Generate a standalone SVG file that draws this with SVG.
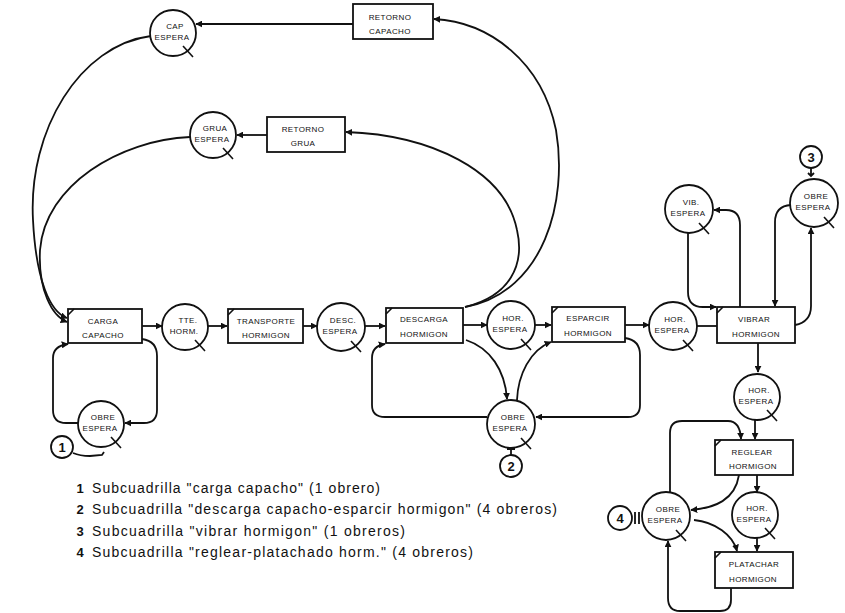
<svg xmlns="http://www.w3.org/2000/svg" width="845" height="613" viewBox="0 0 845 613">
<defs>
<marker id="ah" viewBox="0 0 10 10" refX="9" refY="5" markerWidth="7" markerHeight="7" markerUnits="userSpaceOnUse" orient="auto">
<path d="M0,0 L10,5 L0,10 z" fill="#111"/>
</marker>
</defs>
<style>
.n{fill:#fff;stroke:#111;stroke-width:1.8}
.q{stroke:#111;stroke-width:1.6;fill:none}
.t{font-family:"Liberation Sans",Arial,sans-serif;font-size:8px;fill:#111;text-anchor:middle;letter-spacing:0.4px}
.c{fill:none;stroke:#111;stroke-width:1.8;marker-end:url(#ah)}
.p{fill:none;stroke:#111;stroke-width:1.8}
.lg{font-family:"Liberation Sans",Arial,sans-serif;font-size:14px;fill:#111}
.num{font-family:"Liberation Sans",Arial,sans-serif;font-size:13px;font-weight:bold;fill:#111;text-anchor:middle}
</style>
<rect width="845" height="613" fill="#fff"/>

<g id="connectors">
<path class="c" d="M353,24 L196,24"/>
<path class="c" d="M267,135 L237,135"/>
<path class="c" d="M151,36 C80,45 28,130 33,220 C36,280 50,312 67,318"/>
<path class="c" d="M190,137 C120,140 45,185 40,250 C38,290 52,316 67,322"/>
<path class="c" d="M465,307 C510,296 525,265 517,230 C505,170 430,135 346,132"/>
<path class="c" d="M465,307 C545,292 568,200 556,130 C542,62 490,22 434,19"/>
<path class="c" d="M142,326 L162,326"/>
<path class="c" d="M208,326 L227,326"/>
<path class="c" d="M303,326 L317,326"/>
<path class="c" d="M365,326 L385,326"/>
<path class="c" d="M463,325 L487,325"/>
<path class="c" d="M535,325 L551,325"/>
<path class="c" d="M625,325 L649,325"/>
<path class="p" d="M697,326 L717,326"/>
<path class="c" d="M142,339 Q157,341 157,356 L157,410 Q157,423 144,423 L125,423"/>
<path class="c" d="M78,423 L66,423 Q53,423 53,410 L53,358 Q53,346 68,344"/>
<path class="c" d="M625,338 Q640,340 640,355 L640,405 Q640,417 628,417 L536,417"/>
<path class="c" d="M487,417 L385,417 Q372,417 372,405 L372,358 Q372,346 385,344"/>
<path class="c" d="M466,340 C490,348 505,370 507,399"/>
<path class="c" d="M517,400 C518,375 530,350 551,342"/>
<path class="c" d="M740,307 L740,225 Q740,210 726,210 L714,210"/>
<path class="c" d="M688,233 L688,292 Q688,307 703,307 L716,307"/>
<path class="c" d="M791,205 Q775,206 775,222 L775,306"/>
<path class="c" d="M795,325 Q811,322 811,306 L811,228"/>
<path class="c" d="M758,343 L758,372"/>
<path class="c" d="M755,418 L755,439"/>
<path class="c" d="M757,475 L757,492"/>
<path class="c" d="M757,538 L757,551"/>
<path class="c" d="M670,492 L670,433 Q670,421 682,421 L728,421 Q740,421 741,439"/>
<path class="c" d="M739,475 C735,500 715,508 691,510"/>
<path class="c" d="M694,520 C715,522 733,535 737,551"/>
<path class="c" d="M731,588 L731,600 Q731,611 720,611 L680,611 Q668,611 668,598 L668,541"/>
</g>

<g id="cap-espera"><circle class="n" cx="173" cy="33" r="23"/><line class="q" x1="183" y1="46" x2="193" y2="57"/><text class="t" x="175" y="29">CAP</text><text class="t" x="172" y="40">ESPERA</text></g>
<g id="retorno-capacho"><rect class="n" x="353" y="4" width="80" height="35"/><text class="t" x="390" y="20">RETORNO</text><text class="t" x="390" y="34">CAPACHO</text></g>
<g id="grua-espera"><circle class="n" cx="213" cy="135" r="23"/><line class="q" x1="223" y1="148" x2="233" y2="159"/><text class="t" x="215" y="131">GRUA</text><text class="t" x="212" y="142">ESPERA</text></g>
<g id="retorno-grua"><rect class="n" x="267" y="117" width="78" height="35"/><text class="t" x="303" y="132">RETORNO</text><text class="t" x="303" y="146">GRUA</text></g>

<g id="carga-capacho"><rect class="n" x="68" y="309" width="74" height="34"/><line class="q" x1="68" y1="315" x2="74" y2="309"/><text class="t" x="103" y="324">CARGA</text><text class="t" x="103" y="338">CAPACHO</text></g>
<g id="tte-horm"><circle class="n" cx="185" cy="327" r="23"/><line class="q" x1="195" y1="340" x2="205" y2="351"/><text class="t" x="188" y="323">TTE.</text><text class="t" x="184" y="334">HORM.</text></g>
<g id="transporte-hormigon"><rect class="n" x="228" y="309" width="75" height="34"/><line class="q" x1="228" y1="315" x2="234" y2="309"/><text class="t" x="266" y="324">TRANSPORTE</text><text class="t" x="266" y="338">HORMIGON</text></g>
<g id="desc-espera"><circle class="n" cx="341" cy="327" r="24"/><line class="q" x1="351" y1="341" x2="361" y2="352"/><text class="t" x="343" y="323">DESC.</text><text class="t" x="340" y="334">ESPERA</text></g>
<g id="descarga-hormigon"><rect class="n" x="386" y="308" width="77" height="35"/><line class="q" x1="386" y1="314" x2="392" y2="308"/><text class="t" x="424" y="322">DESCARGA</text><text class="t" x="424" y="337">HORMIGON</text></g>
<g id="hor-espera-1"><circle class="n" cx="511" cy="325" r="24"/><line class="q" x1="521" y1="339" x2="531" y2="350"/><text class="t" x="513" y="321">HOR.</text><text class="t" x="510" y="332">ESPERA</text></g>
<g id="esparcir-hormigon"><rect class="n" x="552" y="307" width="73" height="35"/><line class="q" x1="552" y1="313" x2="558" y2="307"/><text class="t" x="588" y="321">ESPARCIR</text><text class="t" x="588" y="336">HORMIGON</text></g>
<g id="obre-espera-2"><circle class="n" cx="511" cy="424" r="24"/><line class="q" x1="521" y1="438" x2="531" y2="449"/><text class="t" x="513" y="420">OBRE</text><text class="t" x="510" y="431">ESPERA</text></g>
<g id="obre-espera-1"><circle class="n" cx="101" cy="424" r="23"/><line class="q" x1="111" y1="437" x2="121" y2="448"/><text class="t" x="103" y="420">OBRE</text><text class="t" x="100" y="431">ESPERA</text></g>

<g id="hor-espera-2"><circle class="n" cx="673" cy="326" r="24"/><line class="q" x1="683" y1="340" x2="693" y2="351"/><text class="t" x="675" y="322">HOR.</text><text class="t" x="672" y="333">ESPERA</text></g>
<g id="vibrar-hormigon"><rect class="n" x="717" y="307" width="78" height="36"/><line class="q" x1="717" y1="313" x2="723" y2="307"/><text class="t" x="754" y="322">VIBRAR</text><text class="t" x="756" y="337">HORMIGON</text></g>
<g id="vib-espera"><circle class="n" cx="689" cy="209" r="24"/><line class="q" x1="699" y1="223" x2="709" y2="234"/><text class="t" x="691" y="205">VIB.</text><text class="t" x="688" y="216">ESPERA</text></g>
<g id="obre-espera-3"><circle class="n" cx="814" cy="203" r="24"/><line class="q" x1="824" y1="217" x2="834" y2="228"/><text class="t" x="816" y="199">OBRE</text><text class="t" x="813" y="210">ESPERA</text></g>
<g id="hor-espera-3"><circle class="n" cx="757" cy="397" r="23"/><line class="q" x1="767" y1="410" x2="777" y2="421"/><text class="t" x="759" y="393">HOR.</text><text class="t" x="756" y="404">ESPERA</text></g>
<g id="reglear-hormigon"><rect class="n" x="715" y="440" width="78" height="35"/><line class="q" x1="715" y1="446" x2="721" y2="440"/><text class="t" x="752" y="455">REGLEAR</text><text class="t" x="753" y="469">HORMIGON</text></g>
<g id="hor-espera-4"><circle class="n" cx="755" cy="515" r="23"/><line class="q" x1="765" y1="528" x2="775" y2="539"/><text class="t" x="757" y="511">HOR.</text><text class="t" x="754" y="522">ESPERA</text></g>
<g id="platachar-hormigon"><rect class="n" x="715" y="552" width="78" height="36"/><line class="q" x1="715" y1="558" x2="721" y2="552"/><text class="t" x="754" y="567">PLATACHAR</text><text class="t" x="753" y="582">HORMIGON</text></g>
<g id="obre-espera-4"><circle class="n" cx="666" cy="516" r="24"/><line class="q" x1="676" y1="530" x2="686" y2="541"/><text class="t" x="668" y="512">OBRE</text><text class="t" x="665" y="523">ESPERA</text></g>

<g id="tag-1"><circle class="n" cx="62" cy="447" r="11"/><text class="num" x="62" y="452">1</text><path class="p" d="M73,453 Q80,456 90,456 L102,455 L104,452"/></g>
<g id="tag-2"><circle class="n" cx="511" cy="466" r="11"/><text class="num" x="511" y="471">2</text><path class="p" d="M507,449 L515,449 M511,449 L511,455"/></g>
<g id="tag-3"><circle class="n" cx="811" cy="157" r="11"/><text class="num" x="811" y="162">3</text><path class="p" d="M811,168 L811,176 M808,173 L811,176 L814,173"/></g>
<g id="tag-4"><circle class="n" cx="620" cy="518" r="12"/><text class="num" x="620" y="523">4</text><path class="p" d="M635,512 L635,524 M639,512 L639,524"/></g>

<g id="legend">
<text class="num" x="80" y="493">1</text><text class="lg" x="92" y="493" textLength="288" lengthAdjust="spacing">Subcuadrilla "carga capacho" (1 obrero)</text>
<text class="num" x="80" y="514">2</text><text class="lg" x="92" y="514" textLength="465" lengthAdjust="spacing">Subcuadrilla "descarga capacho-esparcir hormigon" (4 obreros)</text>
<text class="num" x="80" y="536">3</text><text class="lg" x="92" y="536" textLength="313" lengthAdjust="spacing">Subcuadrilla "vibrar hormigon" (1 obreros)</text>
<text class="num" x="80" y="557">4</text><text class="lg" x="92" y="557" textLength="381" lengthAdjust="spacing">Subcuadrilla "reglear-platachado horm." (4 obreros)</text>
</g>
</svg>
